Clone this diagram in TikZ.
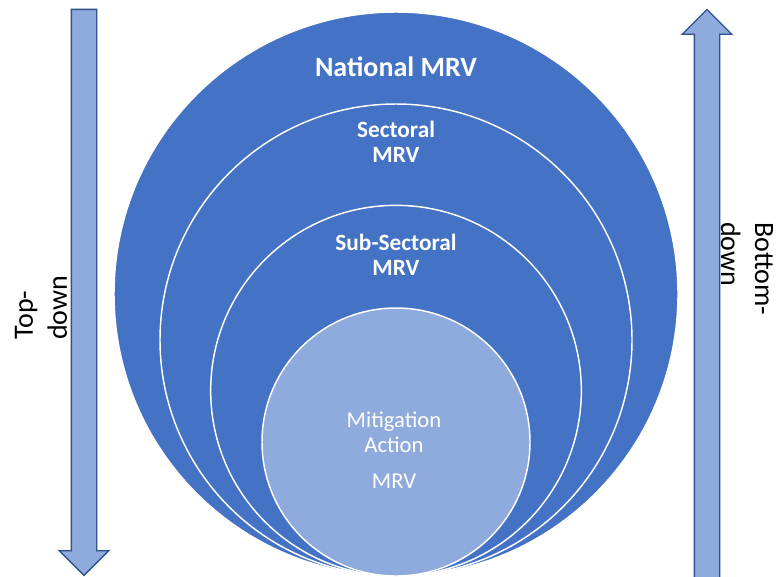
\documentclass[tikz,border=0pt]{standalone}
\usepackage{fontspec}
\setmainfont{Carlito}
\usepackage{tikz}
\usetikzlibrary{positioning}
\usetikzlibrary{shapes.arrows}

\definecolor{mrvblue}{HTML}{4472C4}
\definecolor{mrvlight}{HTML}{8FAADC}
\definecolor{mrvedge}{HTML}{2F528F}

\tikzset{
	level/.style={circle, draw=white, line width=1.1pt, fill=mrvblue, inner sep=0pt, outer sep=0pt},
	flow/.style={single arrow, draw=mrvedge, fill=mrvlight, line width=1pt, inner xsep=0pt, inner ysep=9pt,
		single arrow head extend=9pt},
	levelname/.style={text=white, align=center, font=\bfseries\fontsize{17.5}{18.75}\selectfont},
	sidename/.style={inner sep=0pt, align=left, font=\fontsize{21}{25.5}\selectfont}
}

\begin{document}
\begin{tikzpicture}[x=0.75pt, y=-0.75pt]
			\useasboundingbox (0,0) rectangle (777,576);
			% nested levels, all touching at the bottom
			\node[level, minimum size=423pt] (national) at (396,294) {};
			\node[level, minimum size=354pt, anchor=south] (sectoral) at (national.south) {};
			\node[level, minimum size=278pt, anchor=south] (subsectoral) at (national.south) {};
			\node[level, fill=mrvlight, minimum size=201pt, anchor=south] (mitigation) at (national.south) {};
			\node[levelname, font=\bfseries\fontsize{21}{25}\selectfont] (nationaltext) at (396,67) {National MRV};
			\node[levelname] (sectoraltext) at (396,142) {Sectoral\\MRV};
			\node[levelname] (subsectoraltext) at (396,255) {Sub-Sectoral\\MRV};
			\node[levelname, font=\fontsize{17}{18.75}\selectfont] (mitigationtext) at (394,450) {Mitigation\\Action\\[8pt]MRV};
			% direction arrows
			\node[flow, minimum height=424.5pt, rotate=270] (topdown) at (84,286) {};
			\node[flow, minimum height=436pt, rotate=90] (bottomup) at (707,306.5) {};
			\node[sidename, rotate=90, anchor=west] (topdowntext) at (41,340) {Top-\\down};
			\node[sidename, rotate=-90, anchor=west] (bottomuptext) at (747,222) {Bottom-\\down};
		\end{tikzpicture}
\end{document}
